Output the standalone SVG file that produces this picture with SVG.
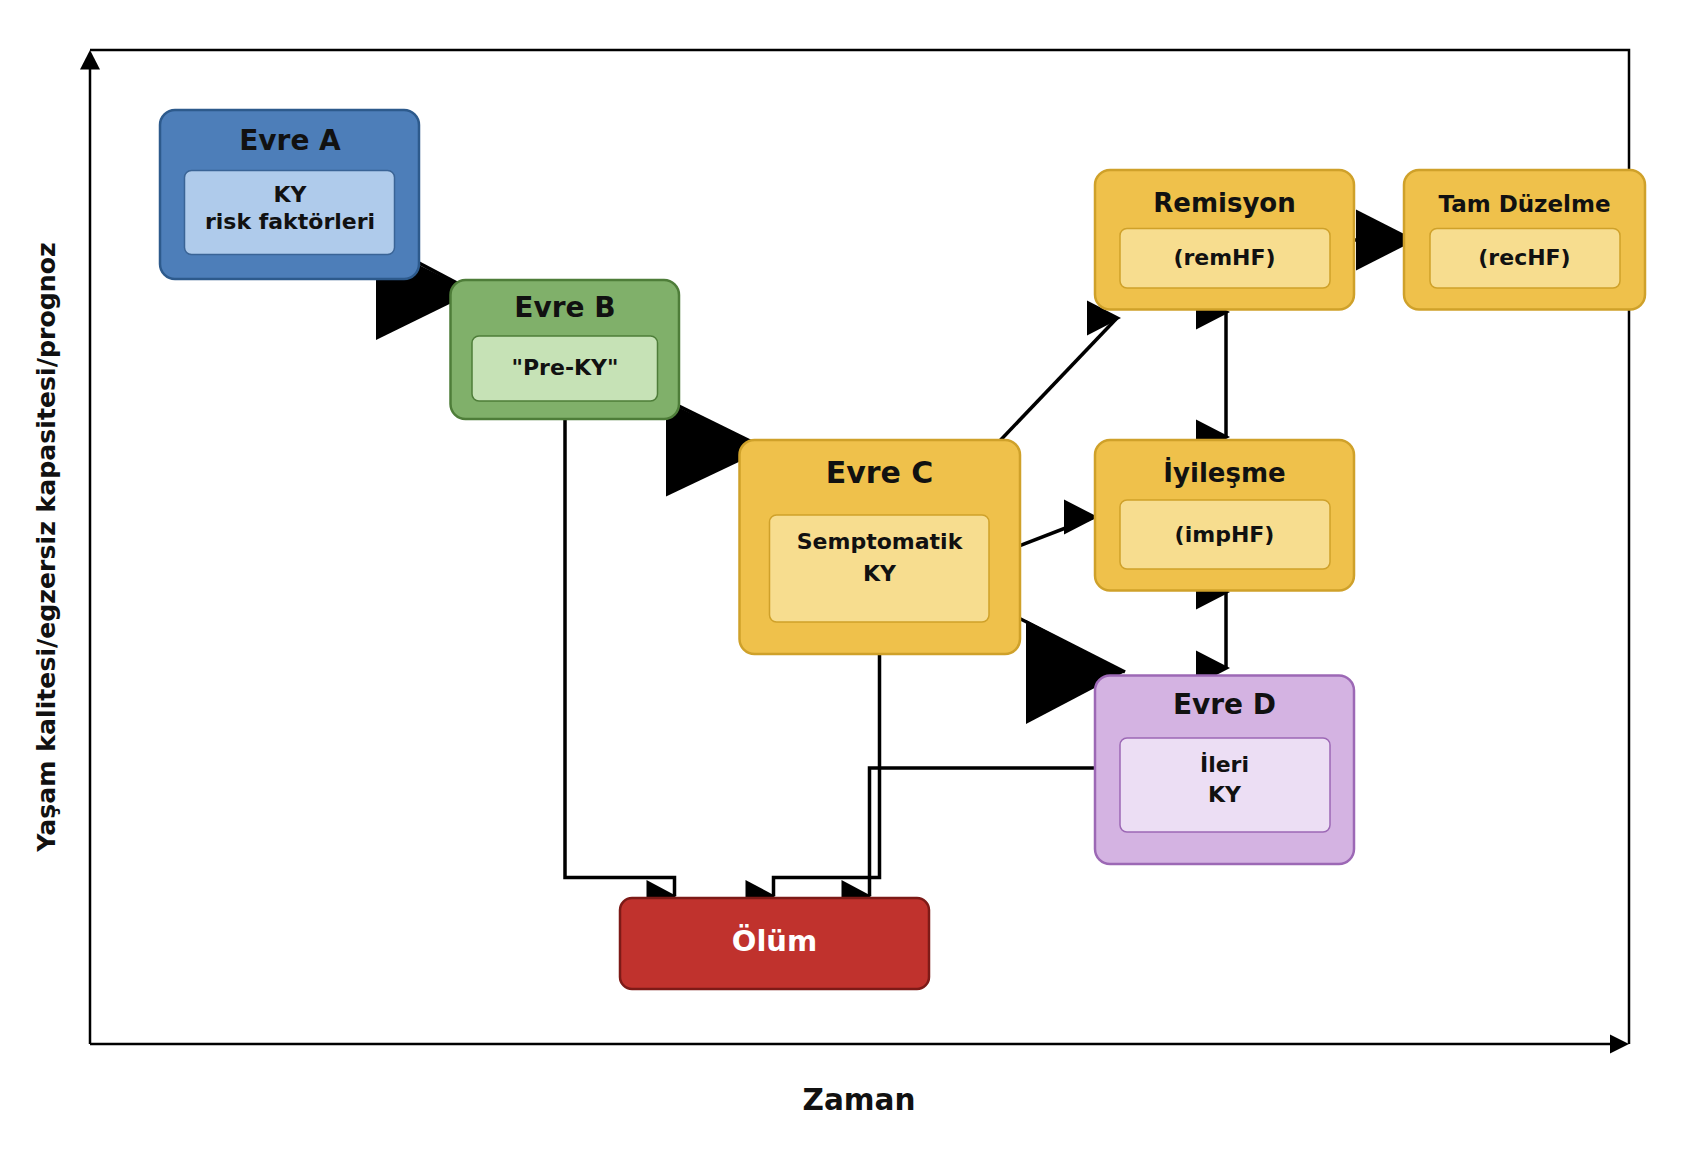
<svg xmlns="http://www.w3.org/2000/svg" width="1690" height="1164" viewBox="0 0 1690 1164">
<style>
text{font-family:"DejaVu Sans","Liberation Sans",sans-serif;font-weight:bold;fill:#111;text-anchor:middle}
.ax{fill:none;stroke:#000;stroke-width:2.5}
.ln{fill:none;stroke:#000;stroke-width:3.5}
.head{fill:#000}
.o{stroke-width:2.5}
.i{stroke-width:1.5}
.blue{fill:#4d7eb9;stroke:#2d5a8c}
.blueI{fill:#afcbeb;stroke:#3a6496}
.green{fill:#80b06a;stroke:#4e7d39}
.greenI{fill:#c6e2b6;stroke:#4e7d39}
.yel{fill:#efc14b;stroke:#cfa12a}
.yelI{fill:#f7dd8f;stroke:#cfa12a}
.pur{fill:#d4b3e2;stroke:#9c68b5}
.purI{fill:#ecdef4;stroke:#9c68b5}
.red{fill:#c0322d;stroke:#7d1a17}
.t28{font-size:28px}
.t22{font-size:22px}
</style>
<defs>
<marker id="mS" viewBox="0 0 34 35" refX="30" refY="17.5" markerWidth="34" markerHeight="35" markerUnits="userSpaceOnUse" orient="0" overflow="visible">
<path d="M0,0 L34,17.5 L0,35 Z" fill="#000"/>
</marker>
<marker id="mT" viewBox="0 0 30 32" refX="28" refY="16" markerWidth="30" markerHeight="32" markerUnits="userSpaceOnUse" orient="0" overflow="visible">
<path d="M0,0 L30,16 L0,32 Z" fill="#000"/>
</marker>
</defs>
<rect width="1690" height="1164" fill="#fff"/>

<g id="axes">
<path class="ax" d="M90,1044 V60 M90,50 H1629 V1044 M90,1044 H1615"/>
<polygon class="head" points="90,50 100,69.5 80,69.5"/>
<polygon class="head" points="1629,1044 1610,1034.5 1610,1053.5"/>
<text x="859" y="1110" style="font-size:29.5px">Zaman</text>
<text transform="translate(55,547) rotate(-90)" style="font-size:25.2px">Yaşam kalitesi/egzersiz kapasitesi/prognoz</text>
</g>

<g id="connectors">
<path class="ln" d="M290,195 L474,292"/>
<polygon class="head" points="376,244 474,292 376,340"/>
<path class="ln" d="M565,350 L766,449"/>
<polygon class="head" points="666,401.5 766,449 666,496.5"/>
<path class="ln" d="M879,547 L1125,672"/>
<polygon class="head" points="1026,620 1125,672 1026,724"/>
<path class="ln" d="M1224,240 L1416,240"/>
<polygon class="head" points="1356,209.5 1416,240 1356,270.5"/>
<path class="ln" d="M993,448 L1117,318" marker-end="url(#mS)"/>
<path class="ln" d="M1010,549.5 L1094,517" marker-end="url(#mS)"/>
<path class="ln" d="M1226,312 V437" marker-start="url(#mS)" marker-end="url(#mS)"/>
<path class="ln" d="M1226,592 V668" marker-start="url(#mS)" marker-end="url(#mS)"/>
<path class="ln" d="M565,419 V877.5 H674.5 V896" marker-end="url(#mT)"/>
<path class="ln" d="M879.5,654 V877.5 H773.5 V896" marker-end="url(#mT)"/>
<path class="ln" d="M1095,768 H869.5 V896" marker-end="url(#mT)"/>
</g>

<g id="evreA">
<rect class="blue o" x="160" y="110" width="259" height="169" rx="15"/>
<rect class="blueI i" x="184.5" y="170.5" width="210" height="84" rx="7"/>
<text class="t28" x="290" y="150">Evre A</text>
<text class="t22" x="290" y="202">KY</text>
<text class="t22" x="290" y="229">risk faktörleri</text>
</g>

<g id="evreB">
<rect class="green o" x="450.5" y="280" width="228.5" height="139" rx="15"/>
<rect class="greenI i" x="472" y="336" width="185.5" height="65" rx="7"/>
<text class="t28" x="565" y="317">Evre B</text>
<text class="t22" x="565" y="375">"Pre-KY"</text>
</g>

<g id="evreC">
<rect class="yel o" x="739.5" y="440" width="280.5" height="214" rx="15"/>
<rect class="yelI i" x="769.5" y="515" width="219.5" height="107" rx="7"/>
<text x="879.5" y="483" style="font-size:30px">Evre C</text>
<text class="t22" x="879.5" y="549">Semptomatik</text>
<text class="t22" x="879.5" y="581">KY</text>
</g>

<g id="remisyon">
<rect class="yel o" x="1095" y="170" width="259" height="139.5" rx="15"/>
<rect class="yelI i" x="1120" y="228.5" width="210" height="59.5" rx="7"/>
<text x="1224.5" y="211.5" style="font-size:26px">Remisyon</text>
<text class="t22" x="1224.5" y="265">(remHF)</text>
</g>

<g id="tamDuzelme">
<rect class="yel o" x="1404" y="170" width="241" height="139.5" rx="15"/>
<rect class="yelI i" x="1430" y="228.5" width="190" height="59.5" rx="7"/>
<text x="1524.5" y="211.5" style="font-size:23px">Tam Düzelme</text>
<text class="t22" x="1524.5" y="265">(recHF)</text>
</g>

<g id="iyilesme">
<rect class="yel o" x="1095" y="440" width="259" height="150.5" rx="15"/>
<rect class="yelI i" x="1120" y="500" width="210" height="69" rx="7"/>
<text x="1224.5" y="481.5" style="font-size:26px">İyileşme</text>
<text class="t22" x="1224.5" y="541.5">(impHF)</text>
</g>

<g id="evreD">
<rect class="pur o" x="1095" y="675.5" width="259" height="188.5" rx="15"/>
<rect class="purI i" x="1120" y="738" width="210" height="94" rx="7"/>
<text class="t28" x="1224.5" y="714">Evre D</text>
<text class="t22" x="1224.5" y="771.5">İleri</text>
<text class="t22" x="1224.5" y="801.5">KY</text>
</g>

<g id="olum">
<rect class="red o" x="620" y="898" width="309" height="91" rx="12"/>
<text x="774.5" y="950.5" style="font-size:29px;fill:#fff">Ölüm</text>
</g>
</svg>
